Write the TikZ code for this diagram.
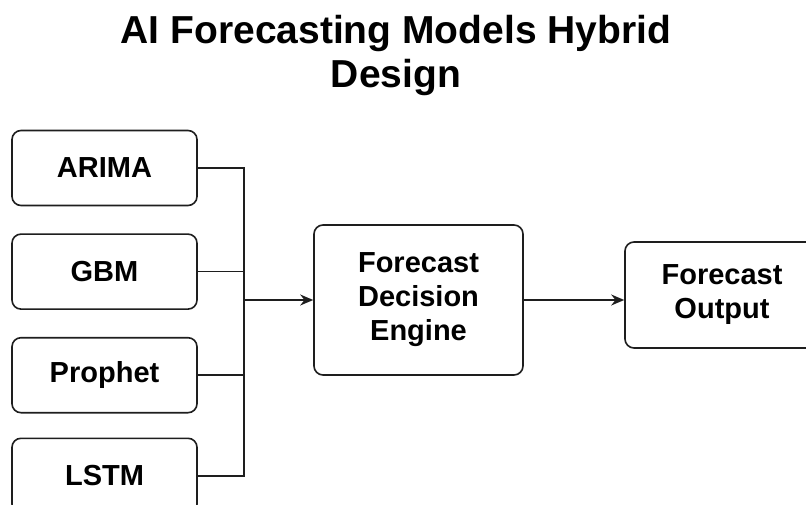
\documentclass[tikz,border=0pt]{standalone}
\usepackage{fontspec}
\setmainfont{Liberation Sans}
\usetikzlibrary{arrows.meta,positioning}
\definecolor{lineblk}{RGB}{30,30,30}
\tikzset{
  model/.style={rectangle,rounded corners=9pt,draw=lineblk,line width=1.6pt,
                minimum width=185pt,minimum height=75pt,text=black,
                font=\fontsize{29}{34}\selectfont\bfseries,align=center},
  wire/.style={line width=1.6pt,draw=lineblk},
  arr/.style={-{Stealth[length=13pt,width=11pt]},line width=1.6pt,draw=lineblk},
}

\begin{document}
\begin{tikzpicture}[x=1pt,y=-1pt,node distance=27pt]
  \useasboundingbox[fill=white] (0,0) rectangle (806,505);
  \node[font=\fontsize{39}{44}\selectfont\bfseries,align=center] (title) at (396,56)
    {AI Forecasting Models Hybrid\\Design};
  \node[model] (arima) at (104.5,168) {ARIMA};
  \node[model, below=of arima] (gbm) {GBM};
  \node[model, below=of gbm] (prophet) {Prophet};
  \node[model, below=24pt of prophet] (lstm) {LSTM};
  \node[model, minimum width=209pt, minimum height=150pt] (engine) at (418.5,300)
    {Forecast\\Decision\\Engine};
  \node[model, minimum width=194pt, minimum height=106pt] (output) at (722,295)
    {Forecast\\Output};
  \path (engine.west) ++(-69,0) coordinate (jn);
  \foreach \m in {arima,gbm,prophet,lstm}
    \draw[wire] (\m.east) -| (jn);
  \draw[arr] (jn) -- (engine.west);
  \draw[arr] (engine.east) -- (engine.east -| output.west);
\end{tikzpicture}
\end{document}
